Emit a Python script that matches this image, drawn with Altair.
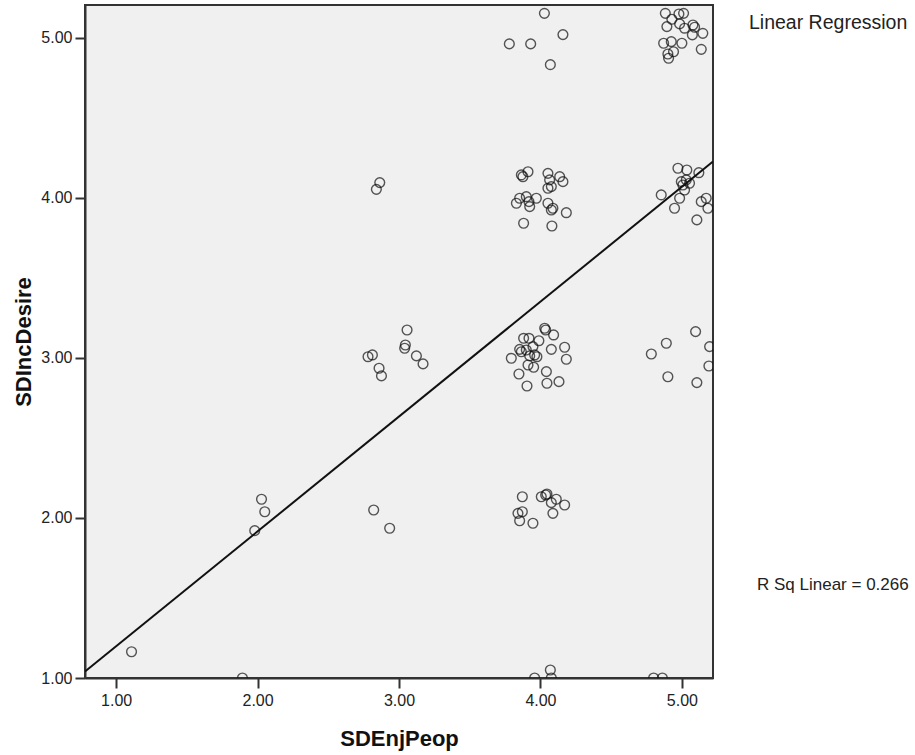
import altair as alt
import pandas as pd

# SDEnjPeop (x) and SDIncDesire (y), jittered points
x_vals = [
    # y ~ 5, x ~ 4
    4.028, 4.159, 3.780, 3.931, 4.070,
    # y ~ 5, x ~ 5
    4.883, 4.979, 5.012, 4.929, 4.894, 4.984, 5.019, 5.078, 5.090, 5.074,
    5.148, 4.871, 4.925, 5.000, 5.137, 4.941, 4.901, 4.906,
    # y ~ 4, x ~ 4
    3.865, 3.912, 3.876, 4.053, 4.065, 4.136, 4.159, 4.077, 4.053, 3.830,
    3.900, 3.924, 3.971, 4.053, 4.077, 4.088, 4.183, 3.881, 4.081, 3.919, 3.853,
    # y ~ 4, x ~ 5
    4.972, 5.035, 5.120, 4.996, 5.031, 5.054, 4.854, 4.984, 5.019, 4.948,
    5.137, 5.172, 5.184, 5.106, 5.007,
    # y ~ 4, x ~ 3
    2.864, 2.840,
    # y ~ 3, x ~ 3
    2.781, 2.812, 2.859, 2.876, 3.057, 3.045, 3.040, 3.123, 3.170,
    # y ~ 3, x ~ 4
    4.030, 4.037, 4.093, 3.881, 3.919, 3.989, 3.853, 3.865, 3.794, 3.924,
    3.959, 3.975, 3.912, 3.952, 4.077, 4.171, 4.183, 4.042, 3.848, 3.905,
    4.046, 4.131, 3.947, 3.900,
    # y ~ 3, x ~ 5
    5.097, 4.890, 4.784, 5.196, 5.191, 4.901, 5.106,
    # y ~ 2
    2.821, 2.934,
    3.872, 3.841, 3.872, 3.853, 3.947, 4.006, 4.046, 4.077, 4.112, 4.171, 4.088, 4.037,
    2.028, 2.051, 1.980,
    # y ~ 1
    1.109, 1.893, 3.959, 4.070, 4.077, 4.800, 4.862,
]
y_vals = [
    5.154, 5.021, 4.963, 4.963, 4.833,
    5.154, 5.150, 5.154, 5.117, 5.071, 5.088, 5.061, 5.081, 5.067, 5.019,
    5.029, 4.967, 4.977, 4.967, 4.929, 4.914, 4.900, 4.873,
    4.144, 4.164, 4.133, 4.154, 4.113, 4.133, 4.102, 4.071, 4.061, 3.967,
    4.008, 3.946, 3.998, 3.967, 3.925, 3.936, 3.908, 3.842, 3.825, 3.977, 3.998,
    4.186, 4.175, 4.158, 4.102, 4.113, 4.092, 4.019, 3.998, 4.050, 3.936,
    3.977, 3.998, 3.936, 3.863, 4.081,
    4.096, 4.054,
    3.008, 3.019, 2.936, 2.888, 3.175, 3.081, 3.061, 3.013, 2.963,
    3.186, 3.175, 3.144, 3.123, 3.123, 3.108, 3.054, 3.039, 2.998, 3.013,
    3.019, 3.008, 2.956, 2.942, 3.054, 3.067, 2.992, 2.915, 2.900, 2.825,
    2.842, 2.852, 3.071, 3.050,
    3.165, 3.092, 3.025, 3.071, 2.950, 2.883, 2.846,
    2.050, 1.936,
    2.133, 2.029, 2.039, 1.983, 1.967, 2.133, 2.150, 2.096, 2.117, 2.081, 2.029, 2.144,
    2.117, 2.039, 1.921,
    1.164, 1.000, 1.000, 1.050, 1.000, 1.000, 1.000,
]

# Fit line
fit_intercept = 0.48
fit_slope = 0.718
line_x = [0.78, 5.22]

x_ticks = [1, 2, 3, 4, 5]
y_ticks = [1, 2, 3, 4, 5]
x_domain = [0.78, 5.22]
y_domain = [1.0, 5.206]

legend_label = "Linear Regression"
rsq_label = "R Sq Linear = 0.266"

pts = pd.DataFrame({"SDEnjPeop": x_vals, "SDIncDesire": y_vals})
line_df = pd.DataFrame({"SDEnjPeop": line_x})

FONT = "Liberation Sans"

x_enc = alt.X(
    "SDEnjPeop:Q",
    scale=alt.Scale(domain=x_domain, nice=False, zero=False),
    axis=alt.Axis(
        values=x_ticks, format=".2f", grid=False, tickSize=10, tickWidth=2,
        tickColor="#333", domainColor="#333", domainWidth=2,
        labelFont=FONT, labelFontSize=16, labelColor="#222", labelPadding=4,
        labelFlush=False,
        title="SDEnjPeop", titleFont=FONT, titleFontSize=22, titleFontWeight="bold",
        titleColor="#111", titleX=314, titleY=67, titleBaseline="alphabetic",
        titleAlign="center",
    ),
)
y_enc = alt.Y(
    "SDIncDesire:Q",
    scale=alt.Scale(domain=y_domain, nice=False, zero=False),
    axis=alt.Axis(
        values=y_ticks, format=".2f", grid=False, tickSize=10, tickWidth=2,
        tickColor="#333", domainColor="#333", domainWidth=2,
        labelFont=FONT, labelFontSize=16, labelColor="#222", labelPadding=3,
        labelFlush=False,
        title="SDIncDesire", titleFont=FONT, titleFontSize=22, titleFontWeight="bold",
        titleColor="#111", titleX=-55, titleY=336.5, titleBaseline="alphabetic",
        titleAlign="center", titleAngle=270,
    ),
)

points = alt.Chart(pts).mark_point(
    shape="circle", filled=False, size=95, stroke="#111", strokeWidth=1.4, clip=True
).encode(x=x_enc, y=y_enc)

line = alt.Chart(line_df).transform_calculate(
    SDIncDesire=f"{fit_intercept} + {fit_slope} * datum.SDEnjPeop"
).mark_line(color="#111", strokeWidth=2, clip=True).encode(
    x="SDEnjPeop:Q", y="SDIncDesire:Q"
)

label1 = alt.Chart(pd.DataFrame({"t": [legend_label]})).mark_text(
    align="left", baseline="middle", font=FONT, fontSize=19.5, color="#222"
).encode(text="t:N", x=alt.value(664), y=alt.value(18))

label2 = alt.Chart(pd.DataFrame({"t": [rsq_label]})).mark_text(
    align="left", baseline="middle", font=FONT, fontSize=17, color="#222"
).encode(text="t:N", x=alt.value(672), y=alt.value(580))

chart = (
    alt.layer(points, line, label1, label2)
    .properties(
        width=628, height=673,
        autosize=alt.AutoSizeParams(type="none"),
        padding={"left": 85, "top": 5, "right": 202, "bottom": 77},
        background="white",
    )
    .configure_view(fill="#F0F0F0", stroke="#333", strokeWidth=2)
)

chart.save("out.html", embed_options={"renderer": "svg", "actions": False})
